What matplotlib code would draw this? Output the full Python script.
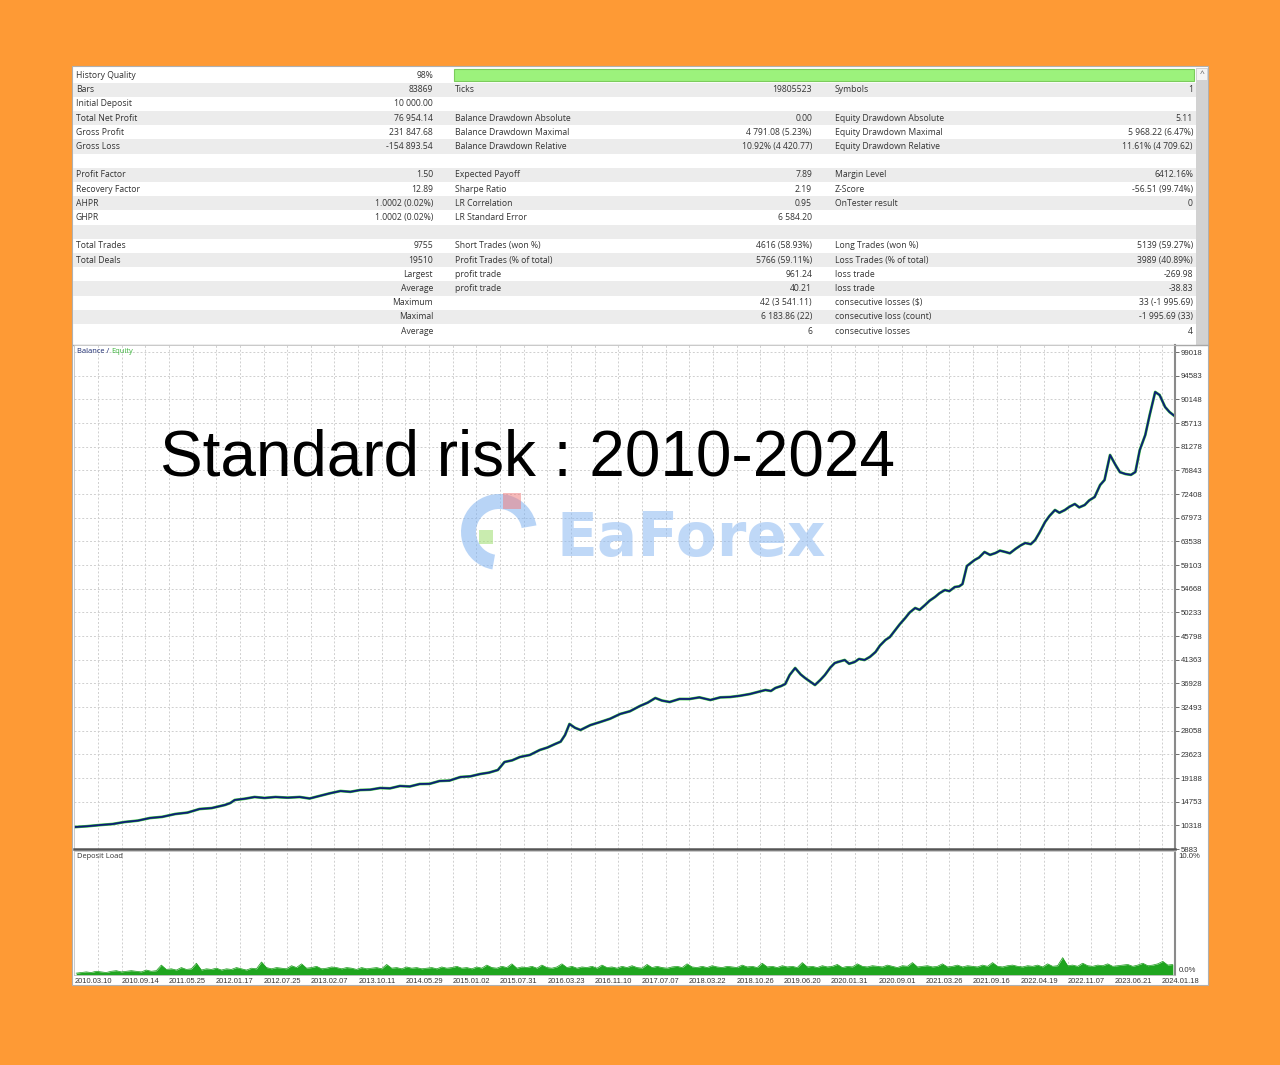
import numpy as np
import matplotlib.pyplot as plt
from matplotlib.patches import Rectangle, Wedge

W, H = 1280, 1065

# ---- report table (label, value) per column ----
col1 = [("History Quality", "98%"), ("Bars", "83869"), ("Initial Deposit", "10 000.00"),
        ("Total Net Profit", "76 954.14"), ("Gross Profit", "231 847.68"), ("Gross Loss", "-154 893.54"),
        ("", ""), ("Profit Factor", "1.50"), ("Recovery Factor", "12.89"), ("AHPR", "1.0002 (0.02%)"),
        ("GHPR", "1.0002 (0.02%)"), ("", ""), ("Total Trades", "9755"), ("Total Deals", "19510"),
        ("", "Largest"), ("", "Average"), ("", "Maximum"), ("", "Maximal"), ("", "Average")]
col2 = [("", ""), ("Ticks", "19805523"), ("", ""), ("Balance Drawdown Absolute", "0.00"),
        ("Balance Drawdown Maximal", "4 791.08 (5.23%)"), ("Balance Drawdown Relative", "10.92% (4 420.77)"),
        ("", ""), ("Expected Payoff", "7.89"), ("Sharpe Ratio", "2.19"), ("LR Correlation", "0.95"),
        ("LR Standard Error", "6 584.20"), ("", ""), ("Short Trades (won %)", "4616 (58.93%)"),
        ("Profit Trades (% of total)", "5766 (59.11%)"), ("profit trade", "961.24"), ("profit trade", "40.21"),
        ("", "42 (3 541.11)"), ("", "6 183.86 (22)"), ("", "6")]
col3 = [("", ""), ("Symbols", "1"), ("", ""), ("Equity Drawdown Absolute", "5.11"),
        ("Equity Drawdown Maximal", "5 968.22 (6.47%)"), ("Equity Drawdown Relative", "11.61% (4 709.62)"),
        ("", ""), ("Margin Level", "6412.16%"), ("Z-Score", "-56.51 (99.74%)"), ("OnTester result", "0"),
        ("", ""), ("", ""), ("Long Trades (won %)", "5139 (59.27%)"), ("Loss Trades (% of total)", "3989 (40.89%)"),
        ("loss trade", "-269.98"), ("loss trade", "-38.83"), ("consecutive losses ($)", "33 (-1 995.69)"),
        ("consecutive loss (count)", "-1 995.69 (33)"), ("consecutive losses", "4")]
history_quality = 98

# ---- balance curve: test progress (%) vs balance ----
progress = [0.1, 1.2, 2.4, 3.5, 4.6, 5.8, 6.9, 8.0, 9.2, 10.3, 11.4, 12.5, 13.7, 14.2, 14.6, 15.5,
            16.4, 17.3, 18.3, 19.4, 20.5, 21.4, 22.3, 23.2, 24.2, 25.1, 26.0, 26.9, 27.8, 28.7, 29.6,
            30.5, 31.4, 32.3, 33.2, 34.1, 35.1, 36.0, 36.9, 37.7, 38.5, 39.1, 39.8, 40.5, 41.4, 42.3,
            43.0, 43.7, 44.2, 44.6, 45.0, 45.5, 46.0, 46.9, 47.8, 48.7, 49.6, 50.5, 51.4, 52.1, 52.8,
            53.4, 54.1, 55.0, 55.9, 56.8, 57.8, 58.7, 59.6, 60.5, 61.4, 62.1, 62.8, 63.3, 63.7, 64.2,
            64.6, 65.0, 65.5, 66.0, 66.4, 66.9, 67.3, 67.8, 68.2, 68.7, 69.1, 69.5, 70.0, 70.4, 70.9,
            71.3, 71.8, 72.3, 72.8, 73.2, 73.7, 74.1, 74.6, 75.0, 75.5, 75.9, 76.4, 76.8, 77.3, 77.7,
            78.2, 78.6, 79.1, 79.5, 80.0, 80.4, 80.7, 81.1, 81.4, 81.8, 82.2, 82.7, 83.2, 83.7, 84.1,
            84.6, 85.0, 85.5, 86.0, 86.4, 86.9, 87.3, 87.7, 88.2, 88.6, 89.1, 89.5, 90.0, 90.4, 90.9,
            91.3, 91.8, 92.2, 92.7, 93.2, 93.6, 94.1, 94.6, 95.0, 95.5, 96.0, 96.4, 96.8, 97.3, 97.7,
            98.2, 98.6, 99.1, 99.5, 100.0]
balance = [10000, 10150, 10381, 10560, 10943, 11200, 11692, 11900, 12442, 12700, 13379, 13550, 14129,
           14500, 15066, 15300, 15628, 15450, 15628, 15500, 15628, 15350, 15815, 16300, 16752, 16600,
           16940, 17000, 17314, 17250, 17689, 17600, 18064, 18100, 18626, 18700, 19376, 19500, 19938,
           20200, 20688, 22187, 22500, 23124, 23500, 24436, 24900, 25560, 26000, 27247, 29308, 28600,
           28184, 29100, 29683, 30300, 31182, 31700, 32681, 33300, 34180, 33700, 33431, 34000, 33993,
           34300, 33806, 34300, 34368, 34600, 34930, 35300, 35680, 35500, 36054, 36400, 36804, 38491,
           39802, 38600, 37928, 37200, 36617, 37600, 38491, 39900, 40739, 41000, 41302, 40600, 40927,
           41500, 41302, 41900, 42801, 44000, 45050, 45600, 46924, 48000, 49172, 50200, 51046, 50700,
           51609, 52400, 53108, 53800, 54420, 54200, 54982, 55100, 55544, 58917, 59400, 60042, 60500,
           61541, 61000, 61353, 61800, 61541, 61300, 62103, 62800, 63227, 63000, 63790, 65200, 67163,
           68300, 69412, 68900, 69412, 70000, 70536, 69900, 70349, 71200, 71848, 74097, 75034, 79719,
           77845, 76500, 76158, 76000, 76533, 80656, 83467, 87215, 91525, 90963, 88714, 87777, 86954]

yticks = [5883, 10318, 14753, 19188, 23623, 28058, 32493, 36928, 41363, 45798, 50233, 54668,
          59103, 63538, 67973, 72408, 76843, 81278, 85713, 90148, 94583, 99018]

# ---- deposit load (%) sampled evenly across the test ----
deposit_load = [0.15, 0.2, 0.25, 0.2, 0.3, 0.25, 0.2, 0.3, 0.35, 0.25,
                0.3, 0.35, 0.3, 0.25, 0.4, 0.3, 0.35, 0.8, 0.45, 0.5,
                0.4, 0.6, 0.45, 0.5, 0.95, 0.4, 0.5, 0.45, 0.55, 0.4,
                0.5, 0.45, 0.6, 0.5, 0.4, 0.55, 0.5, 1.05, 0.6, 0.5,
                0.6, 0.55, 0.5, 0.75, 0.6, 0.9, 0.55, 0.6, 0.7, 0.5,
                0.55, 0.65, 0.6, 0.5, 0.6, 0.55, 0.45, 0.6, 0.5, 0.55,
                0.6, 0.5, 0.85, 0.55, 0.6, 0.5, 0.65, 0.55, 0.6, 0.5,
                0.55, 0.6, 0.5, 0.65, 0.55, 0.6, 0.7, 0.55, 0.6, 0.5,
                0.65, 0.55, 0.8, 0.6, 0.55, 0.7, 0.6, 0.9, 0.55, 0.65,
                0.6, 0.7, 0.55, 0.8, 0.6, 0.55, 0.65, 0.9, 0.6, 0.7,
                0.55, 0.65, 0.6, 0.7, 0.55, 0.8, 0.6, 0.65, 0.55, 0.7,
                0.6, 0.75, 0.6, 0.55, 0.85, 0.6, 0.7, 0.6, 0.55, 0.65,
                0.7, 0.6, 0.9, 0.65, 0.6, 0.7, 0.6, 0.75, 0.65, 0.6,
                0.7, 0.65, 0.6, 0.8, 0.65, 0.7, 0.6, 0.95, 0.65, 0.7,
                0.6, 0.75, 0.65, 0.7, 0.6, 1.0, 0.65, 0.7, 0.6, 0.75,
                0.65, 0.7, 0.85, 0.6, 0.7, 0.65, 0.9, 0.7, 0.65, 0.75,
                0.7, 0.65, 0.8, 0.7, 0.6, 0.75, 0.7, 1.0, 0.65, 0.7,
                0.75, 0.65, 0.7, 0.9, 0.65, 0.7, 0.8, 0.65, 0.75, 0.7,
                0.65, 0.8, 0.7, 1.0, 0.7, 0.65, 0.75, 0.8, 0.7, 0.65,
                0.75, 0.7, 0.8, 0.65, 0.9, 0.7, 0.75, 1.4, 0.75, 0.8,
                0.7, 0.95, 0.75, 0.7, 0.8, 0.75, 0.9, 0.7, 0.75, 0.8,
                0.85, 0.7, 0.8, 0.95, 0.75, 0.8, 0.9, 1.1, 0.8, 0.85]

date_labels = ["2010.03.10", "2010.09.14", "2011.05.25", "2012.01.17", "2012.07.25", "2013.02.07",
               "2013.10.11", "2014.05.29", "2015.01.02", "2015.07.31", "2016.03.23", "2016.11.10",
               "2017.07.07", "2018.03.22", "2018.10.26", "2019.06.20", "2020.01.31", "2020.09.01",
               "2021.03.26", "2021.09.16", "2022.04.19", "2022.11.07", "2023.06.21", "2024.01.18"]

ORANGE = "#fe9a35"
TXT = "#333333"
GRID = "#cfcfcf"
plt.rcParams['font.family'] = ['Open Sans', 'DejaVu Sans']


def fig_rect(x0, y0, x1, y1):
    # pixel box (top-left origin) -> figure fraction
    return [x0 / W, 1 - y1 / H, (x1 - x0) / W, (y1 - y0) / H]


fig = plt.figure(figsize=(W / 100, H / 100), dpi=100, facecolor=ORANGE)

# background / table layer in pixel coordinates
bg = fig.add_axes([0, 0, 1, 1], zorder=0)
bg.set_xlim(0, W)
bg.set_ylim(H, 0)
bg.axis('off')
bg.add_patch(Rectangle((72, 66), 1136, 919, facecolor='white', edgecolor='#b0b0b0', lw=0.8))

row_h = 14.2
row0 = 75.5
for i in range(len(col1)):
    yc = row0 + i * row_h
    if i % 2 == 1:
        bg.add_patch(Rectangle((73, yc - row_h / 2), 1123, row_h, facecolor='#ececec', lw=0))
    for (lab, val), xl, xr in zip((col1[i], col2[i], col3[i]), (76, 455, 835), (433, 812, 1193)):
        if lab:
            bg.text(xl, yc, lab, fontsize=6.2, color=TXT, va='center', ha='left')
        if val:
            bg.text(xr, yc, val, fontsize=6.2, color=TXT, va='center', ha='right')

# history quality bar
bg.add_patch(Rectangle((454, 69), 740 * history_quality / 100 / 0.98, 12,
                       facecolor='#9cf27c', edgecolor='#7ccc5c', lw=0.8))
# scrollbar
bg.add_patch(Rectangle((1196, 68), 12, 277, facecolor='#d2d2d2', lw=0))
bg.add_patch(Rectangle((1197, 69), 10, 11, facecolor='#f4f4f4', lw=0))
bg.text(1202, 75, "^", fontsize=6, ha='center', va='center', color='#555555')
bg.plot([73, 1208], [344.5, 344.5], color='#a8a8a8', lw=1)

# ---- balance / equity chart ----
x_all = np.array(progress)
ax = fig.add_axes(fig_rect(74, 345, 1175, 849), zorder=1)
ax.set_facecolor('white')
ax.set_xlim(0, 100)
ax.set_ylim(5883, 5883 + 504 * 187.4)
grid_x = np.arange(2.18, 100, 2.148)
ax.set_xticks(grid_x)
ax.set_xticklabels([])
ax.tick_params(axis='x', length=0)
ax.set_yticks(yticks)
ax.yaxis.tick_right()
ax.set_yticklabels([str(v) for v in yticks], fontsize=5.6, color=TXT, family='Liberation Sans')
ax.tick_params(axis='y', length=3, width=0.6, color='#555555', pad=1)
ax.grid(True, color=GRID, ls=(0, (2, 2)), lw=0.7)
ax.set_axisbelow(True)
for s in ('left', 'top'):
    ax.spines[s].set_color('#c0c0c0')
    ax.spines[s].set_linewidth(0.6)
ax.spines['right'].set_color('#8a8a8a')
ax.spines['right'].set_linewidth(1.5)
ax.spines['bottom'].set_color('#555555')
ax.spines['bottom'].set_linewidth(1.8)

ax.plot(x_all, balance, color='#3ec43e', lw=2.0)
ax.plot(x_all, balance, color='#0d1c78', lw=1.3)
ax.text(0.003, 0.995, "Balance / ", transform=ax.transAxes, fontsize=5.4, color='#1a2a70', va='top')
ax.text(0.0335, 0.995, "Equity", transform=ax.transAxes, fontsize=5.4, color='#3cb43c', va='top')

# ---- deposit load ----
dax = fig.add_axes(fig_rect(74, 851, 1175, 975), zorder=1)
dax.set_xlim(0, 100)
dax.set_ylim(0, 10)
dx = np.linspace(0.2, 99.8, len(deposit_load))
dax.fill_between(dx, 0, deposit_load, color='#1fa51f', lw=0)
dax.plot(dx, deposit_load, color='#189a18', lw=0.5)
dax.set_xticks(grid_x)
dax.set_xticklabels([])
dax.set_yticks([])
dax.tick_params(axis='x', length=0)
dax.grid(True, axis='x', color=GRID, ls=(0, (2, 2)), lw=0.7)
dax.set_axisbelow(True)
for s in ('left', 'top', 'bottom'):
    dax.spines[s].set_color('#c0c0c0')
    dax.spines[s].set_linewidth(0.6)
dax.spines['right'].set_color('#8a8a8a')
dax.spines['right'].set_linewidth(1.5)
dax.text(0.003, 0.985, "Deposit Load", transform=dax.transAxes, fontsize=5.4, color=TXT, va='top')
dax.text(1.003, 0.985, "10.0%", transform=dax.transAxes, fontsize=5.6, color=TXT, va='top',
         family='Liberation Sans')
dax.text(1.003, 0.04, "0.0%", transform=dax.transAxes, fontsize=5.6, color=TXT, va='center',
         family='Liberation Sans')
for i, lab in enumerate(date_labels):
    xp = (93 + 47.3 * i - 74) / 1101 * 100
    dax.text(xp, -0.025, lab, transform=dax.get_xaxis_transform(), fontsize=5.4, color=TXT,
             ha='center', va='top', family='Liberation Sans', clip_on=False)

# ---- overlay: watermark and title ----
top = fig.add_axes([0, 0, 1, 1], zorder=5)
top.set_xlim(0, W)
top.set_ylim(H, 0)
top.axis('off')
top.patch.set_alpha(0)
top.add_patch(Wedge((499, 532), 38, 100, 350, width=15, facecolor='#7fb2f0', alpha=0.55, lw=0))
top.add_patch(Rectangle((503, 493), 18, 16, facecolor='#f08080', alpha=0.55, lw=0))
top.add_patch(Rectangle((479, 530), 14, 14, facecolor='#a6e07a', alpha=0.6, lw=0))
top.text(556, 556, "EaForex", fontsize=43, fontweight='bold', color='#8cb9f2', alpha=0.55,
         ha='left', va='baseline', family='DejaVu Sans')
top.text(527, 476, "Standard risk : 2010-2024", fontsize=46, color='black', ha='center',
         va='baseline', family='Liberation Sans')

fig.savefig('out.png', dpi=100, facecolor=ORANGE)
